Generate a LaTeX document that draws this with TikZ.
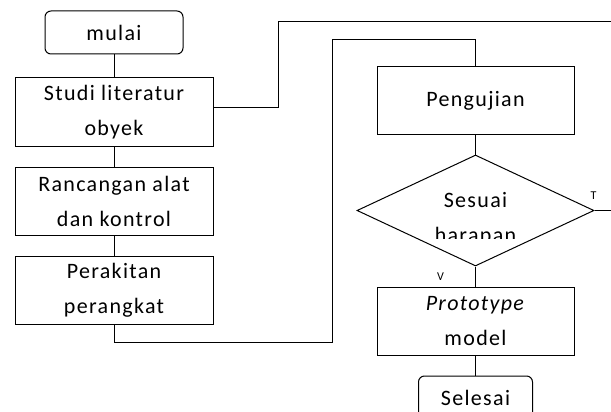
\documentclass[tikz,border=0pt]{standalone}
\usepackage{fontspec}
\newfontfamily\bagan{Carlito}[LetterSpace=6]
\usetikzlibrary{positioning, shapes.geometric}

\begin{document}
\begin{tikzpicture}[
    x=1pt, y=-1pt,
    node distance=20pt,
    font=\bagan\fontsize{22}{35}\selectfont,
    kotak/.style={rectangle, draw, line width=1pt, align=center, minimum width=198pt, minimum height=68pt, inner sep=0pt},
    ujung/.style={rectangle, draw, rounded corners=6pt, line width=1pt, minimum width=138pt, minimum height=43pt, inner sep=0pt},
    pilih/.style={diamond, draw, line width=1pt, minimum width=237pt, minimum height=111pt, inner sep=0pt},
    kecil/.style={font=\bagan\fontsize{12}{14}\selectfont, inner sep=0pt},
    garis/.style={line width=1pt}
]
\clip (0,0) rectangle (611,412);

% Nodes
\node[ujung] (mulai) at (114,32.5) {mulai};
\node[kotak, below=23pt of mulai] (studi) {Studi literatur\\obyek};
\node[kotak, below=of studi] (rancang) {Rancangan alat\\dan kontrol};
\node[kotak, below=of rancang] (rakit) {Perakitan\\perangkat};

\node[kotak, minimum width=197pt, minimum height=67pt] (uji) at (475.5,100.5) {Pengujian};
\node[pilih, below=of uji] (cek) {};
\node[kotak, minimum width=197pt, below=of cek] (proto) {\textit{Prototype}\\model};
\node[ujung, minimum width=114pt, below=of proto] (selesai) {Selesai};

\begin{scope}
\clip (356,150) rectangle (594,238.5);
\node[align=center, inner sep=0pt, yshift=-8.5pt] (cekteks) at (cek) {Sesuai\\harapan};
\end{scope}

\node[kecil, above=11pt of cek.east, xshift=-1pt] (labelT) {T};
\node[kecil] (labelV) at ([xshift=-35pt, yshift=-10.5pt]cek.south) {V};

\coordinate (atas) at (278,22);
\coordinate (kanan) at (640,22);
\coordinate (bawah) at (332,342);
\coordinate (belok) at (332,40);

% Lines
\draw[garis] (mulai) -- (studi);
\draw[garis] (studi) -- (rancang);
\draw[garis] (rancang) -- (rakit);
\draw[garis] ([yshift=4pt]studi.east) -| (atas) -- (kanan) |- (cek.east);
\draw[garis] (rakit.south) |- (bawah) -- (belok) -| (uji.north);
\draw[garis] (uji) -- (cek);
\draw[garis] (cek) -- (proto);
\draw[garis] (proto) -- (selesai);

\end{tikzpicture}
\end{document}
